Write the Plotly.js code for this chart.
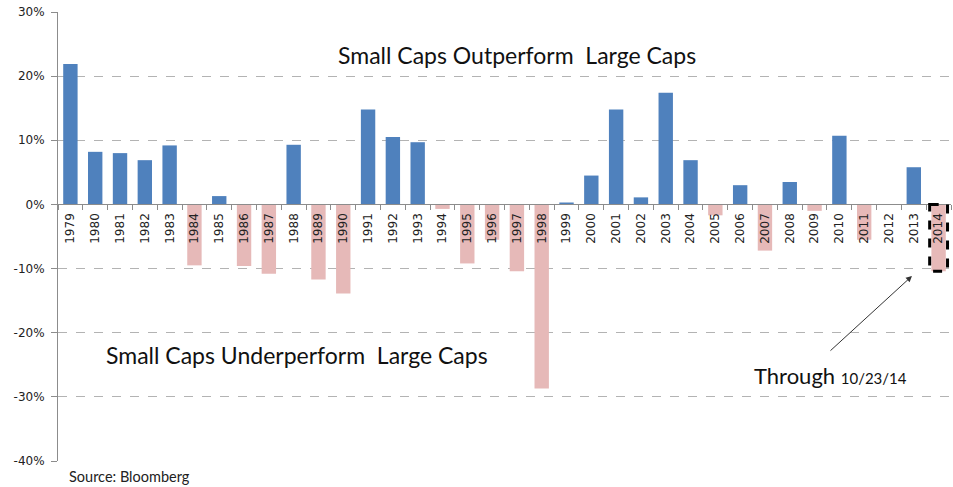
<!DOCTYPE html>
<html>
<head>
<meta charset="utf-8">
<script src="https://cdn.plot.ly/plotly-3.0.1.min.js"></script>
<style>html,body{margin:0;padding:0;background:#fff;}#chart{width:953px;height:487px;}</style>
</head>
<body>
<div id="chart"></div>
<script>
// Years (categories)
const years = ['1979','1980','1981','1982','1983','1984','1985','1986','1987','1988',
  '1989','1990','1991','1992','1993','1994','1995','1996','1997','1998',
  '1999','2000','2001','2002','2003','2004','2005','2006','2007','2008',
  '2009','2010','2011','2012','2013','2014'];
// Small cap minus large cap return, %
const spread = [21.9, 8.2, 8.0, 6.9, 9.2, -9.5, 1.3, -9.6, -10.8, 9.3,
  -11.7, -13.9, 14.8, 10.5, 9.7, -0.7, -9.2, -5.5, -10.4, -28.7,
  0.3, 4.5, 14.8, 1.1, 17.4, 6.9, -1.7, 3.0, -7.2, 3.5,
  -1.0, 10.7, -5.5, 0.0, 5.8, -10.4];
const yTicks = [-40, -30, -20, -10, 0, 10, 20, 30];
const highlightYear = '2014';

const BLUE = '#4f81bd', PINK = '#e6b9b8';
const colors = spread.map(v => v >= 0 ? BLUE : PINK);
const hi = years.indexOf(highlightYear);

const trace = {
  type: 'bar', x: years, y: spread,
  marker: {color: colors},
  hoverinfo: 'x+y'
};

const ymin = -40, ymax = 30;
const layout = {
  width: 953, height: 487,
  margin: {l: 58, r: 2, t: 12, b: 26},
  paper_bgcolor: '#fff', plot_bgcolor: '#fff',
  showlegend: false,
  bargap: 0.42,
  font: {family: 'DejaVu Sans', color: '#222'},
  xaxis: {
    type: 'category',
    anchor: 'free',
    position: (0 - ymin) / (ymax - ymin),
    showline: true, linecolor: '#8c8c8c', linewidth: 1,
    ticks: 'outside', tickson: 'boundaries', ticklen: 5, tickcolor: '#8c8c8c',
    tickangle: -90, ticklabelstandoff: 3,
    tickfont: {family: 'DejaVu Sans', size: 12, color: '#222'},
    showgrid: false, zeroline: false,
    range: [-0.5, years.length - 0.5]
  },
  yaxis: {
    range: [ymin, ymax],
    tickvals: yTicks,
    ticktext: yTicks.map(v => v + '%'),
    showline: true, linecolor: '#8c8c8c', linewidth: 1,
    ticks: 'outside', ticklen: 6, tickcolor: '#8c8c8c',
    ticklabelstandoff: 4,
    tickfont: {family: 'DejaVu Sans', size: 12, color: '#222'},
    showgrid: true, gridcolor: '#b3b3b3', griddash: 'dash', gridwidth: 1,
    zeroline: false
  },
  shapes: [{
    type: 'rect', xref: 'x', yref: 'y',
    x0: hi - 0.36, x1: hi + 0.36, y0: 0, y1: spread[hi],
    line: {color: '#000', width: 3, dash: 'dash'},
    fillcolor: 'rgba(0,0,0,0)'
  }],
  annotations: [
    {xref: 'paper', yref: 'paper', x: 0.514, y: 0.904, xanchor: 'center', yanchor: 'middle',
     showarrow: false,
     text: 'Small Caps Outperform&nbsp; Large Caps',
     font: {family: 'Lato', size: 23, color: '#111'}},
    {xref: 'paper', yref: 'paper', x: 0.268, y: 0.236, xanchor: 'center', yanchor: 'middle',
     showarrow: false,
     text: 'Small Caps Underperform&nbsp; Large Caps',
     font: {family: 'Lato', size: 23, color: '#111'}},
    {xref: 'paper', yref: 'paper', x: 0.865, y: 0.1915, xanchor: 'center', yanchor: 'middle',
     showarrow: false,
     text: 'Through <span style="font-size:15px">10/23/14</span>',
     font: {family: 'Lato', size: 22, color: '#111'}},
    {xref: 'paper', yref: 'paper', x: 0.9563, y: 0.412, text: '',
     showarrow: true, ax: -83, ay: 76, arrowhead: 2, arrowsize: 1.2,
     arrowwidth: 1, arrowcolor: '#333'},
    {xref: 'paper', yref: 'paper', x: 0.01, y: -0.0356, xanchor: 'left', yanchor: 'middle',
     showarrow: false, text: 'Source: Bloomberg',
     font: {family: 'Lato', size: 14.5, color: '#222'}}
  ]
};

Plotly.newPlot('chart', [trace], layout, {displayModeBar: false, staticPlot: true});
</script>
</body>
</html>
